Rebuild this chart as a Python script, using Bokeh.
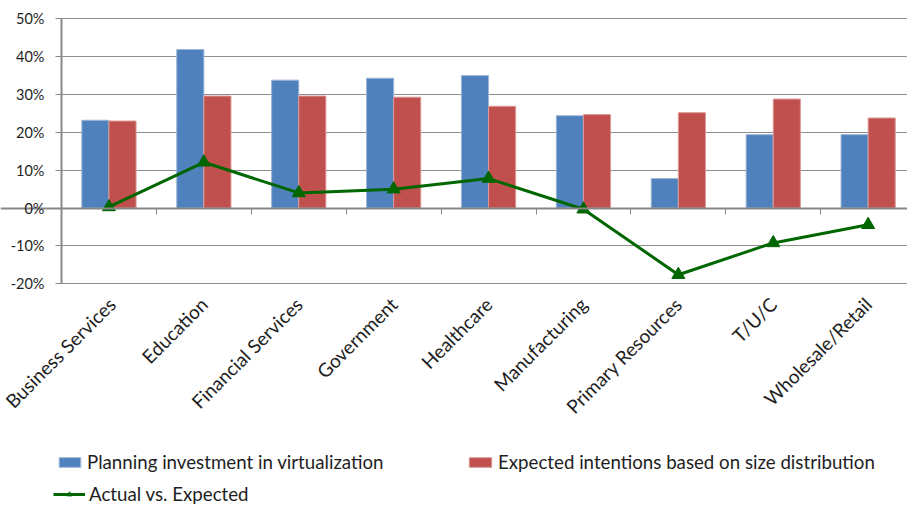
import math
from bokeh.plotting import figure
from bokeh.models import (ColumnDataSource, FixedTicker, Grid, LinearAxis, Legend,
                          LegendItem, PrintfTickFormatter, Range1d)
from bokeh.transform import dodge
from bokeh.embed import file_html
from bokeh.resources import INLINE

# Survey results by industry (percent)
categories = ["Business Services", "Education", "Financial Services", "Government",
              "Healthcare", "Manufacturing", "Primary Resources", "T/U/C",
              "Wholesale/Retail"]
planning = [23.2, 41.9, 33.8, 34.3, 35.0, 24.4, 7.8, 19.4, 19.4]
expected = [23.0, 29.6, 29.6, 29.3, 26.9, 24.7, 25.2, 28.8, 23.8]
actual_vs_expected = [0.3, 12.1, 4.0, 5.0, 7.8, -0.3, -17.6, -9.2, -4.4]
y_ticks = [-20, -10, 0, 10, 20, 30, 40, 50]

FONT = "Lato"
TEXT = "#1e1e1e"
AXIS_GREY = "#878787"
GRID_GREY = "#8e8e8e"
BLUE = "#4F81BD"
RED = "#C0504D"
GREEN = "#006600"
BLUE_EDGE = "#9db5d6"
RED_EDGE = "#dc9a98"

W, H = 907, 506
TOP = 18.3          # pixels above the 50% line
AXIS_X = 61         # pixel column of the value axis
CAT_PX = 94.9       # width of one category slot in pixels
PLOT_H = 265        # pixel height of the value span

n = len(categories)
src = ColumnDataSource(dict(x=list(range(n)), planning=planning,
                            expected=expected, diff=actual_vs_expected))

# The frame covers the whole page, so the tick labels, category labels and
# the legend all sit inside it; axes are pinned at data positions.
x0 = -0.5
x_start = x0 - AXIS_X / CAT_PX
x_end = x0 + (W - AXIS_X) / CAT_PX
y_lo, y_hi = y_ticks[0], y_ticks[-1]
px_per_unit = PLOT_H / (y_hi - y_lo)
y_top = y_hi + TOP / px_per_unit
y_start = y_top - H / px_per_unit

bar_w = 1 / 3.5  # gap width 150%

p = figure(width=W, height=H, output_backend="svg", toolbar_location=None,
           x_range=Range1d(x_start, x_end), y_range=Range1d(y_start, y_top),
           x_axis_type=None, y_axis_type=None, min_border=0)
p.outline_line_color = None
p.background_fill_color = "white"
p.border_fill_color = "white"
p.ygrid.visible = False
p.xgrid.visible = False

# value axis
yax = LinearAxis(fixed_location=x0, bounds=(y_lo, y_hi),
                 ticker=FixedTicker(ticks=y_ticks),
                 formatter=PrintfTickFormatter(format="%d%%"),
                 axis_line_color=AXIS_GREY, axis_line_width=2,
                 major_tick_line_color=AXIS_GREY, major_tick_out=6, major_tick_in=0,
                 minor_tick_line_color=None,
                 major_label_standoff=11, major_label_text_font=FONT,
                 major_label_text_font_size="14.5px", major_label_text_color=TEXT)
p.add_layout(yax, "left")

# horizontal gridlines, only across the category slots
grid = Grid(dimension=1, ticker=FixedTicker(ticks=y_ticks),
            grid_line_color=GRID_GREY, grid_line_width=1,
            bounds=(y_lo, y_hi), cross_bounds=(x0, x_end))
p.add_layout(grid, "center")

# category labels hanging under the lowest gridline
xax = LinearAxis(fixed_location=y_lo, ticker=FixedTicker(ticks=list(range(n))),
                 major_label_overrides={i: c for i, c in enumerate(categories)},
                 major_label_orientation=math.pi / 4,
                 axis_line_color=None, major_tick_line_color=None,
                 minor_tick_line_color=None, major_label_standoff=11,
                 major_label_text_font=FONT, major_label_text_font_size="19px",
                 major_label_text_color=TEXT)
p.add_layout(xax, "below")

# category axis line crossing at zero, with ticks between categories
zero_axis = LinearAxis(fixed_location=0,
                       ticker=FixedTicker(ticks=[i + x0 for i in range(n + 1)]),
                       axis_line_color=AXIS_GREY, axis_line_width=2,
                       major_tick_line_color=AXIS_GREY, major_tick_out=6,
                       major_tick_in=0, minor_tick_line_color=None,
                       major_label_text_font_size="0px", major_label_text_alpha=0)
p.add_layout(zero_axis, "below")

r_blue = p.vbar(x=dodge("x", -bar_w / 2, range=p.x_range), top="planning", bottom=0,
                width=bar_w, source=src, fill_color=BLUE, line_color=BLUE_EDGE,
                line_width=1)
r_red = p.vbar(x=dodge("x", bar_w / 2, range=p.x_range), top="expected", bottom=0,
               width=bar_w, source=src, fill_color=RED, line_color=RED_EDGE,
               line_width=1)
r_line = p.line(x="x", y="diff", source=src, line_color=GREEN, line_width=3)
r_mark = p.scatter(x="x", y="diff", source=src, marker="triangle", size=13,
                   fill_color=GREEN, line_color=GREEN)


def add_legend(label, renderers, loc, glyph_width):
    lg = Legend(items=[LegendItem(label=label, renderers=renderers)], location=loc,
                orientation="horizontal", padding=0, margin=0, spacing=0,
                background_fill_alpha=0, border_line_alpha=0,
                glyph_width=glyph_width, glyph_height=12, label_height=12,
                label_standoff=4, label_text_font=FONT,
                label_text_font_size="18.7px", label_text_color=TEXT)
    p.add_layout(lg, "center")


add_legend("Planning investment in virtualization", [r_blue], (56, 33), 27)
add_legend("Expected intentions based on size distribution", [r_red], (466, 33), 28)
add_legend("Actual vs. Expected", [r_line, r_mark], (53, 1), 32)

open("out.html", "w").write(file_html(p, INLINE))
